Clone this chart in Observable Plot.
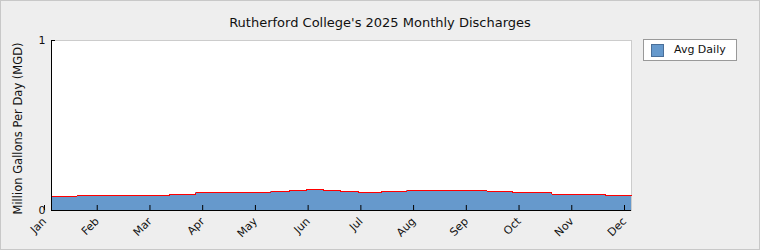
<!DOCTYPE html>
<html>
<head>
<meta charset="utf-8">
<script src="https://cdn.jsdelivr.net/npm/d3@7"></script>
<script src="https://cdn.jsdelivr.net/npm/@observablehq/plot@0.6"></script>
<style>
  html, body { margin: 0; padding: 0; background: #eeeeee; }
  #wrap { position: relative; width: 760px; height: 250px; font-family: "DejaVu Sans", sans-serif; }
  #wrap svg { display: block; background: #eeeeee; outline: 1px solid #c8c8c8; outline-offset: -1px; }
  #title { position: absolute; left: 0; width: 760px; top: 15px; text-align: center; font-size: 13px; color: #111; font-family: "DejaVu Sans", sans-serif; }
  #legend { position: absolute; left: 643px; top: 39px; width: 92px; height: 20px; background: #fff; border: 1px solid #999; font-size: 11px; }
  #legend .sw { position: absolute; left: 7px; top: 4px; width: 11px; height: 11px; background: #6699cc; border: 1px solid #4a6f99; }
  #legend .lb { position: absolute; left: 30px; top: 3px; color: #111; }
</style>
</head>
<body>
<div id="wrap">
  <div id="title"></div>
  <div id="legend"><div class="sw"></div><div class="lb"></div></div>
</div>
<script>
const titleText = "Rutherford College's 2025 Monthly Discharges";
const yLabel = "Million Gallons Per Day (MGD)";
const seriesName = "Avg Daily";
const months = ["Jan","Feb","Mar","Apr","May","Jun","Jul","Aug","Sep","Oct","Nov","Dec"];
const yTicks = [0, 1];
// position (in months from Jan) where each level starts
const stepStarts = [0, 0.49, 2.245, 2.74, 4.16, 4.51, 4.84, 5.16, 5.49, 5.83, 6.25, 6.74, 8.26, 8.75, 9.49, 10.5, 11];
const avgDaily  = [0.085, 0.091, 0.097, 0.103, 0.109, 0.115, 0.121, 0.115, 0.109, 0.103, 0.109, 0.115, 0.109, 0.103, 0.097, 0.091, 0.091];

const data = stepStarts.map((x, i) => ({x, y: avgDaily[i]}));

document.getElementById("title").textContent = titleText;
document.querySelector("#legend .lb").textContent = seriesName;

const chart = Plot.plot({
  width: 760,
  height: 250,
  marginLeft: 51,
  marginRight: 129,
  marginTop: 40,
  marginBottom: 40,
  style: {fontFamily: "DejaVu Sans, sans-serif", fontSize: "11px", color: "#111", background: "#eeeeee"},
  x: {domain: [0, months.length - 1]},
  y: {domain: [0, 1]},
  marks: [
    Plot.frame({fill: "white", stroke: "#cccccc"}),
    Plot.areaY(data, {x: "x", y: "y", curve: "step-after", fill: "#6699cc", shapeRendering: "crispEdges"}),
    Plot.lineY(data, {x: "x", y: "y", curve: "step-after", stroke: "#ff0000", strokeWidth: 1, shapeRendering: "crispEdges"}),
    Plot.axisX({ticks: d3.range(months.length), tickFormat: i => months[i], tickSize: -5, tickPadding: 14, tickRotate: -45, dx: -7, label: null, stroke: "black", strokeOpacity: 1}),
    Plot.axisY({ticks: yTicks, tickFormat: d3.format("d"), tickSize: -4, tickPadding: 10, label: null, stroke: "black", strokeOpacity: 1}),
    Plot.text([yLabel], {text: d => d, frameAnchor: "left", textAnchor: "middle", rotate: -90, dx: -33, dy: 3, fontSize: 11.5, fill: "#111"}),
    Plot.ruleY([0], {stroke: "black"}),
    Plot.ruleX([0], {stroke: "black"})
  ]
});
document.getElementById("wrap").prepend(chart);
</script>
</body>
</html>
